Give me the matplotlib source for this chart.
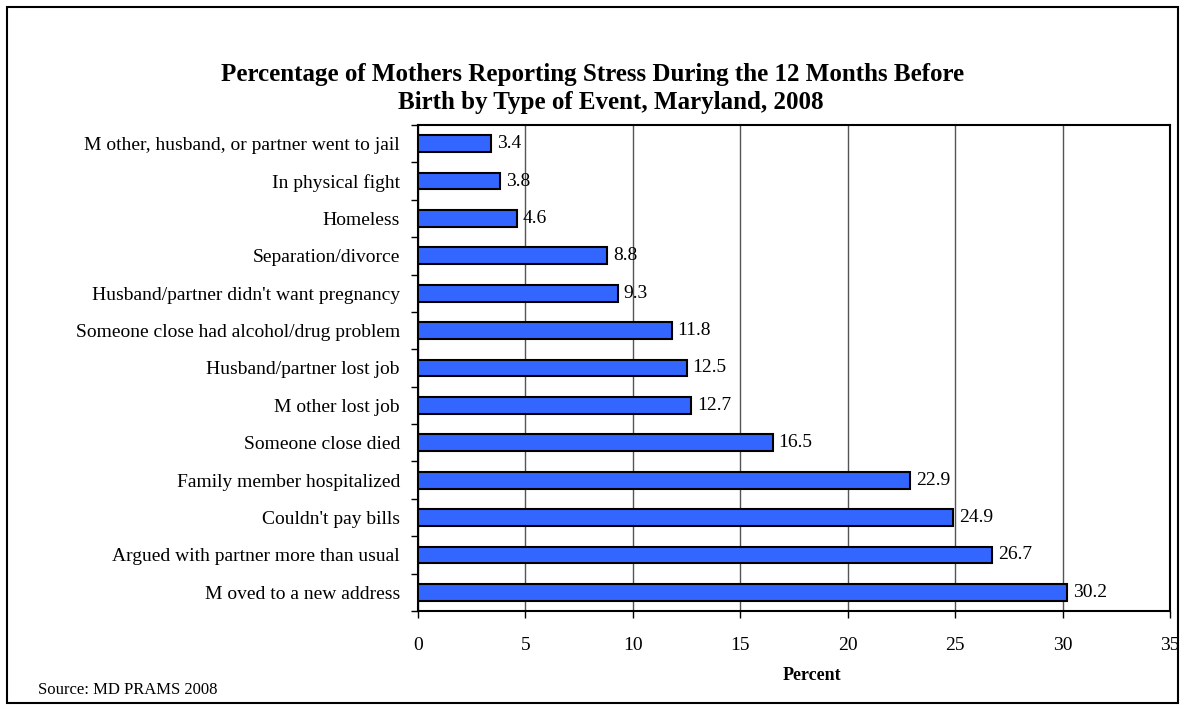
import matplotlib
matplotlib.use("Agg")
import matplotlib.pyplot as plt
from matplotlib.patches import Rectangle
import numpy as np

categories = [
    "M other, husband, or partner went to jail",
    "In physical fight",
    "Homeless",
    "Separation/divorce",
    "Husband/partner didn't want pregnancy",
    "Someone close had alcohol/drug problem",
    "Husband/partner lost job",
    "M other lost job",
    "Someone close died",
    "Family member hospitalized",
    "Couldn't pay bills",
    "Argued with partner more than usual",
    "M oved to a new address",
]
values = [3.4, 3.8, 4.6, 8.8, 9.3, 11.8, 12.5, 12.7, 16.5, 22.9, 24.9, 26.7, 30.2]
xticks = [0, 5, 10, 15, 20, 25, 30, 35]

plt.rcParams['font.family'] = ['Liberation Serif', 'DejaVu Serif']

fig = plt.figure(figsize=(11.85, 7.09), dpi=100)
ax = fig.add_axes([418/1185, 1-611/709, (1170-418)/1185, (611-125)/709])

n = len(categories)
y = np.arange(n)
ax.barh(y, values, height=0.45, color='#3366FF', edgecolor='black', linewidth=1.5, zorder=3)
for yi, v in zip(y, values):
    ax.text(v + 0.28, yi, f"{v:.1f}", va='center', ha='left', fontsize=14, zorder=4)

ax.set_ylim(n - 0.5, -0.5)
ax.set_xlim(0, 35)
ax.set_yticks(y)
ax.set_yticklabels(categories, fontsize=14)
ax.tick_params(axis='y', which='major', length=0, pad=13)
ax.set_yticks(np.arange(-0.5, n, 1), minor=True)
ax.tick_params(axis='y', which='minor', length=5, width=1, direction='out')
ax.set_xticks(xticks)
ax.set_xticklabels([str(t) for t in xticks], fontsize=14)
ax.tick_params(axis='x', length=5, width=1, direction='out', pad=14)
ax.xaxis.grid(True, color='#555555', linewidth=1, zorder=0)
for s in ax.spines.values():
    s.set_linewidth(1.5)
ax.set_xlabel("Percent", fontsize=13, fontweight='bold')
ax.xaxis.set_label_coords((812-418)/(1170-418), -(676-611)/(611-125))
ax.xaxis.label.set_va('center')

fig.text(593/1185, 1-75/709, "Percentage of Mothers Reporting Stress During the 12 Months Before",
         ha='center', va='center', fontsize=18, fontweight='bold')
fig.text(611/1185, 1-103/709, "Birth by Type of Event, Maryland, 2008",
         ha='center', va='center', fontsize=18, fontweight='bold')
fig.text(38/1185, 1-690/709, "Source: MD PRAMS 2008", ha='left', va='center', fontsize=12)

fig.patches.append(Rectangle((7/1185, 1-703/709), (1178-7)/1185, (703-7)/709,
                             transform=fig.transFigure, fill=False, edgecolor='black', linewidth=1.5))

fig.savefig("out.png", dpi=100)
